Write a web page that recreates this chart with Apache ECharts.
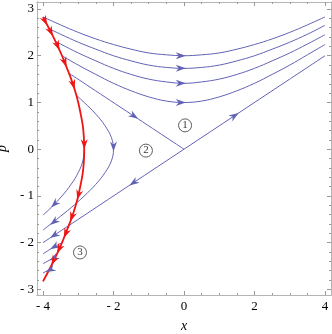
<!DOCTYPE html>
<html>
<head>
<meta charset="utf-8">
<script src="https://cdn.jsdelivr.net/npm/echarts@6/dist/echarts.min.js"></script>
<style>
  html, body { margin: 0; padding: 0; background: #fff; }
  #main { width: 332px; height: 334px; }
</style>
</head>
<body>
<div id="main"></div>
<script>
// tick values
var xMajor = [-4, -2, 0, 2, 4];
var xMinor = [-3.5, -3, -2.5, -1.5, -1, -0.5, 0.5, 1, 1.5, 2.5, 3, 3.5];
var yMajor = [-3, -2, -1, 0, 1, 2, 3];
var yMinor = [-2.8, -2.6, -2.4, -2.2, -1.8, -1.6, -1.4, -1.2, -0.8, -0.6, -0.4, -0.2,
              0.2, 0.4, 0.6, 0.8, 1.2, 1.4, 1.6, 1.8, 2.2, 2.4, 2.6, 2.8];

// upper trajectories, [x, p]
var curveA = [[-3.97, 2.82], [-3.5, 2.66], [-3, 2.5], [-2.5, 2.36], [-2, 2.24], [-1.5, 2.14], [-1, 2.06], [-0.5, 2.02], [0, 2.0],
              [0.5, 2.02], [1, 2.06], [1.5, 2.14], [2, 2.24], [2.5, 2.36], [3, 2.5], [3.5, 2.66], [4, 2.83]];
var curveB = [[-3.83, 2.58], [-3.5, 2.46], [-3, 2.29], [-2.5, 2.14], [-2, 2.0], [-1.5, 1.89], [-1, 1.8], [-0.5, 1.75], [0, 1.73],
              [0.5, 1.75], [1, 1.8], [1.5, 1.89], [2, 2.0], [2.5, 2.14], [3, 2.29], [3.5, 2.46], [4, 2.65]];
var curveC = [[-3.65, 2.31], [-3.5, 2.25], [-3, 2.06], [-2.5, 1.89], [-2, 1.73], [-1.5, 1.6], [-1, 1.5], [-0.5, 1.44], [0, 1.41],
              [0.5, 1.44], [1, 1.5], [1.5, 1.6], [2, 1.73], [2.5, 1.89], [3, 2.06], [3.5, 2.25], [4, 2.45]];
var curveD = [[-3.46, 2.0], [-3, 1.8], [-2.5, 1.6], [-2, 1.41], [-1.5, 1.25], [-1, 1.12], [-0.5, 1.03], [0, 1.0],
              [0.5, 1.03], [1, 1.12], [1.5, 1.25], [2, 1.41], [2.5, 1.6], [3, 1.8], [3.5, 2.02], [4, 2.24]];
var stableLine = [[-3.27, 1.63], [0, 0]];
var unstableLine = [[-4, -2], [4, 2]];
// region 2 trajectories
var curveE = [[-3.05, 1.15], [-2.83, 1.0], [-2.5, 0.75], [-2.24, 0.5], [-2.06, 0.25], [-2.0, 0], [-2.06, -0.25], [-2.24, -0.5],
              [-2.5, -0.75], [-2.83, -1.0], [-3.2, -1.25], [-3.61, -1.5], [-4.0, -1.73]];
var curveF = [[-2.83, 0], [-2.87, -0.25], [-3.0, -0.5], [-3.2, -0.75], [-3.46, -1.0], [-3.77, -1.25], [-4.0, -1.41]];
// region 3 short pieces
var curveG = [[-3.46, -2.0], [-3.75, -2.12], [-4.0, -2.24]];
var curveH = [[-3.65, -2.31], [-3.83, -2.38], [-4.0, -2.45]];
var curveI = [[-3.83, -2.58], [-4.0, -2.65]];
// red curve
var redCurve = [[-4.0, 2.83], [-3.77, 2.5], [-3.61, 2.25], [-3.46, 2.0], [-3.33, 1.75], [-3.2, 1.5], [-3.09, 1.25], [-3.0, 1.0],
                [-2.93, 0.75], [-2.87, 0.5], [-2.84, 0.25], [-2.83, 0], [-2.84, -0.25], [-2.87, -0.5], [-2.93, -0.75],
                [-3.0, -1.0], [-3.09, -1.25], [-3.2, -1.5], [-3.33, -1.75], [-3.46, -2.0], [-3.61, -2.25], [-3.77, -2.5], [-4.0, -2.83]];

// arrowheads: [x, p, dx, dp] tip and heading
var blueArrows = [[0.05, 2.0, 1, 0], [0.05, 1.73, 1, 0], [0.05, 1.41, 1, 0], [0.05, 1.0, 1, 0],
                  [-1.3, 0.65, 1, -0.5], [1.55, 0.775, 1, 0.5], [-1.55, -0.775, -1, -0.5], [-2.0, -0.05, 0, -1],
                  [-3.77, -1.25, -1.31, -1], [-3.8, -1.62, -1.7, -1], [-3.8, -1.9, -1, -0.5],
                  [-3.8, -2.14, -1, -0.44], [-3.82, -2.38, -1, -0.4], [-3.92, -2.63, -1, -0.37]];
var redArrows = [[-3.88, 2.65, 0.68, -1], [-3.72, 2.42, 0.65, -1], [-3.53, 2.12, 0.6, -1], [-3.33, 1.76, 0.53, -1],
                 [-3.1, 1.28, 0.41, -1], [-2.83, 0.0, 0, -1], [-3.03, -1.08, -0.36, -1], [-3.23, -1.55, -0.48, -1],
                 [-3.41, -1.9, -0.56, -1], [-3.6, -2.23, -0.62, -1], [-3.76, -2.48, -0.66, -1]];

// region marks
var regionMarks = [[0.03, 0.51, '1'], [-1.08, -0.03, '2'], [-2.95, -2.21, '3']];

var BLUE = '#6262b5';
var RED = '#f01414';
var FRAME = '#b4b4b4';
var XMIN = -4.17, XMAX = 4.17, YMIN = -3.12, YMAX = 3.15;

function fmt(v) {
    return v < 0 ? '- ' + Math.abs(v) : String(v);
}

function xAx(pos, vals, len, labels) {
    return {
        type: 'value', min: XMIN, max: XMAX, position: pos,
        axisLine: { show: true, onZero: false, lineStyle: { color: FRAME, width: 1 } },
        axisTick: { show: true, inside: true, length: len, customValues: vals, lineStyle: { color: '#999' } },
        axisLabel: labels ? { show: true, customValues: vals, formatter: fmt, margin: 5, color: '#000',
                              fontFamily: 'Liberation Serif', fontSize: 13 } : { show: false },
        splitLine: { show: false }
    };
}
function yAx(pos, vals, len, labels) {
    return {
        type: 'value', min: YMIN, max: YMAX, position: pos,
        axisLine: { show: true, onZero: false, lineStyle: { color: FRAME, width: 1 } },
        axisTick: { show: true, inside: true, length: len, customValues: vals, lineStyle: { color: '#999' } },
        axisLabel: labels ? { show: true, customValues: vals, formatter: fmt, margin: 3, color: '#000',
                              fontFamily: 'Liberation Serif', fontSize: 13 } : { show: false },
        splitLine: { show: false }
    };
}

function line(data, color, width) {
    return {
        type: 'line', data: data, smooth: 0.4, symbol: 'none', silent: true,
        lineStyle: { color: color, width: width }, z: color === RED ? 4 : 3
    };
}

function arrowSeries(data, color, len, wid) {
    return {
        type: 'custom', data: data, z: color === RED ? 6 : 5, silent: true,
        renderItem: function (params, api) {
            var tip = api.coord([api.value(0), api.value(1)]);
            var back = api.coord([api.value(0) - api.value(2) * 0.1, api.value(1) - api.value(3) * 0.1]);
            var a = Math.atan2(tip[1] - back[1], tip[0] - back[0]);
            var c = Math.cos(a), s = Math.sin(a);
            function p(u, v) { return [tip[0] + u * c - v * s, tip[1] + u * s + v * c]; }
            return {
                type: 'polygon',
                shape: { points: [p(0, 0), p(-len, wid / 2), p(-len * 0.7, 0), p(-len, -wid / 2)] },
                style: { fill: color }
            };
        }
    };
}

var chart = echarts.init(document.getElementById('main'));
var xs = [xAx('bottom', xMajor, 4, true), xAx('bottom', xMinor, 2, false),
          xAx('top', xMajor, 4, false), xAx('top', xMinor, 2, false)];
var ys = [yAx('left', yMajor, 4, true), yAx('left', yMinor, 2, false),
          yAx('right', yMajor, 4, false), yAx('right', yMinor, 2, false)];
xs[0].name = 'x';
xs[0].nameLocation = 'middle';
xs[0].nameGap = 24;
xs[0].nameTextStyle = { fontFamily: 'Liberation Serif', fontStyle: 'italic', fontSize: 14, color: '#000' };
ys[0].name = 'p';
ys[0].nameLocation = 'middle';
ys[0].nameGap = 22;
ys[0].nameTextStyle = { fontFamily: 'Liberation Serif', fontStyle: 'italic', fontSize: 14, color: '#000' };

var series = [];
[curveA, curveB, curveC, curveD, stableLine, unstableLine, curveE, curveF, curveG, curveH, curveI].forEach(function (d) {
    series.push(line(d, BLUE, 1));
});
series.push(line(redCurve, RED, 1.8));
series.push(arrowSeries(blueArrows, BLUE, 10, 7));
series.push(arrowSeries(redArrows, RED, 10, 7));
series.push({
    type: 'scatter', data: regionMarks, symbol: 'circle', symbolSize: 13, silent: true, z: 7,
    itemStyle: { color: '#fff', borderColor: '#222', borderWidth: 0.9 },
    label: {
        show: true, position: 'inside', formatter: function (p) { return p.data[2]; },
        fontFamily: 'Liberation Serif', fontSize: 11, color: '#000'
    }
});

chart.setOption({
    animation: false,
    grid: { left: 37, right: 1, top: 2, bottom: 39, outerBoundsMode: 'none', containLabel: false },
    xAxis: xs,
    yAxis: ys,
    series: series
});
</script>
</body>
</html>
